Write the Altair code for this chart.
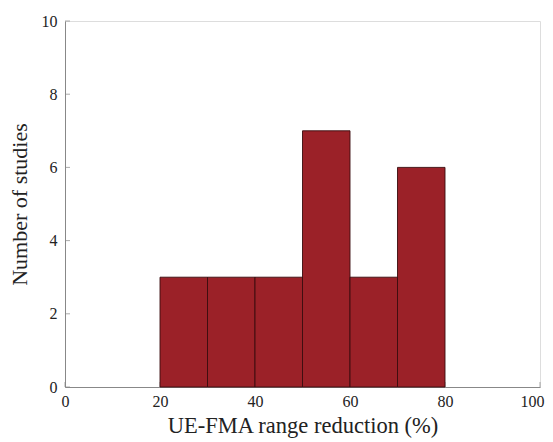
import altair as alt
import pandas as pd

bin_start = [20, 30, 40, 50, 60, 70]
bin_end = [30, 40, 50, 60, 70, 80]
counts = [3, 3, 3, 7, 3, 6]

x_ticks = [0, 20, 40, 60, 80, 100]
y_ticks = [0, 2, 4, 6, 8, 10]

df = pd.DataFrame({"start": bin_start, "end": bin_end, "count": counts})
xt = pd.DataFrame({"v": x_ticks, "z": [0] * len(x_ticks)})
yt = pd.DataFrame({"v": y_ticks, "z": [0] * len(y_ticks)})

FONT = "Liberation Serif"
xscale = alt.Scale(domain=[0, 100], nice=False, zero=False)
yscale = alt.Scale(domain=[0, 10], nice=False)

axis_x = alt.Axis(values=x_ticks, ticks=False, grid=False, domainColor="#888888",
                  labelFont=FONT, labelFontSize=16, labelColor="#222222", labelPadding=6,
                  labelAlign=alt.condition("datum.value == 100", alt.value("right"), alt.value("center")),
                  labelOffset=alt.condition("datum.value == 100", alt.value(4), alt.value(0)),
                  titleFont=FONT, titleFontSize=22.5, titleFontWeight="normal",
                  titleColor="#222222", titlePadding=5, labelFlush=False)
axis_y = alt.Axis(values=y_ticks, ticks=False, grid=False, domainColor="#888888",
                  labelFont=FONT, labelFontSize=16, labelColor="#222222", labelPadding=8,
                  titleFont=FONT, titleFontSize=22, titleFontWeight="normal",
                  titleColor="#222222", titlePadding=10)

bars = alt.Chart(df).mark_rect(color="#9B2128", stroke="#3a0c0e", strokeWidth=0.9).encode(
    x=alt.X("start:Q", scale=xscale, axis=axis_x, title="UE-FMA range reduction (%)"),
    x2="end:Q",
    y=alt.Y("count:Q", scale=yscale, axis=axis_y, title="Number of studies"),
    y2=alt.datum(0),
)

xticks_layer = alt.Chart(xt).mark_tick(orient="vertical", size=5, color="#888888",
                                       thickness=1, yOffset=-2.5).encode(
    x=alt.X("v:Q", scale=xscale),
    y=alt.Y("z:Q", scale=yscale),
)
yticks_layer = alt.Chart(yt).mark_tick(orient="horizontal", size=5, color="#888888",
                                       thickness=1, xOffset=2.5).encode(
    x=alt.X("z:Q", scale=xscale),
    y=alt.Y("v:Q", scale=yscale),
)

chart = alt.layer(xticks_layer, yticks_layer, bars).properties(
    width=475, height=366,
    autosize=alt.AutoSizeParams(type="none"),
    padding={"left": 57, "top": 13, "right": 5, "bottom": 55},
).configure_view(stroke=None).configure(background="white")

chart.save("out.html", embed_options={"renderer": "svg", "actions": False})
